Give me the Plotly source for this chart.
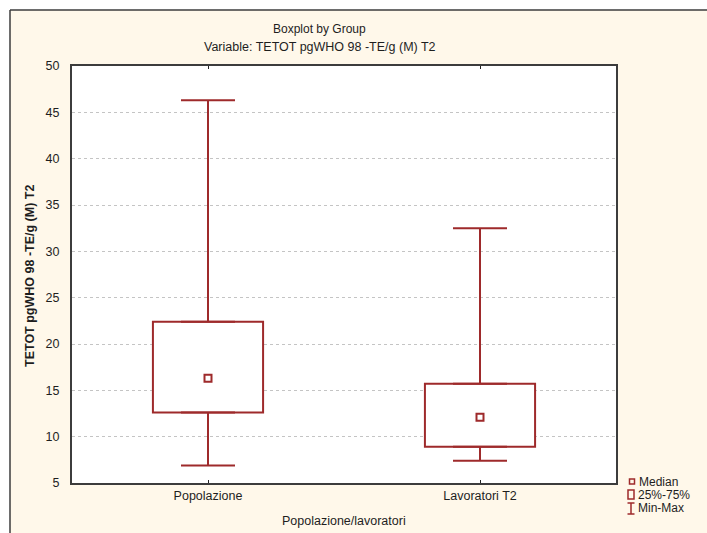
import plotly.graph_objects as go

categories = ["Popolazione", "Lavoratori T2"]
mins = [6.9, 7.4]
q1s = [12.6, 8.9]
medians = [16.3, 12.1]
q3s = [22.4, 15.7]
maxs = [46.3, 32.5]
y_ticks = [5, 10, 15, 20, 25, 30, 35, 40, 45, 50]

RED = "#9e2a2b"
CREAM = "#fff8ea"
W, H = 707, 533
L, R, T, B = 72, 616, 66, 483
FONT = "Liberation Sans, Arial, sans-serif"
TXT = "#1e1e1e"


def px(x):
    return (x - L) / (R - L)


def py(y):
    return (B - y) / (B - T)


fig = go.Figure()

# upper whiskers (from q3 to max)
fig.add_trace(go.Scatter(
    x=categories, y=q3s, mode="markers",
    marker=dict(size=0.1, color="rgba(0,0,0,0)"),
    error_y=dict(type="data", symmetric=False,
                 array=[mx - q for mx, q in zip(maxs, q3s)],
                 arrayminus=[0, 0], color=RED, thickness=2, width=27),
    showlegend=False, hoverinfo="skip"))
# lower whiskers (from q1 to min)
fig.add_trace(go.Scatter(
    x=categories, y=q1s, mode="markers",
    marker=dict(size=0.1, color="rgba(0,0,0,0)"),
    error_y=dict(type="data", symmetric=False,
                 array=[0, 0],
                 arrayminus=[q - mn for q, mn in zip(q1s, mins)],
                 color=RED, thickness=2, width=27),
    showlegend=False, hoverinfo="skip"))
# boxes
fig.add_trace(go.Bar(
    x=categories, base=q1s, y=[q3 - q1 for q3, q1 in zip(q3s, q1s)],
    width=0.405, marker=dict(color="white", line=dict(color=RED, width=2)),
    showlegend=False, hoverinfo="skip"))
# medians
fig.add_trace(go.Scatter(
    x=categories, y=medians, mode="markers",
    marker=dict(symbol="square-open", size=7, color=RED, line=dict(width=2, color=RED)),
    showlegend=False, hoverinfo="skip"))

shapes = [
    # white strips outside the cream frame
    dict(type="rect", xref="paper", yref="paper", layer="below",
         x0=px(-5), x1=px(10), y0=py(H + 20), y1=py(-5),
         fillcolor="white", line=dict(width=0)),
    dict(type="rect", xref="paper", yref="paper", layer="below",
         x0=px(-5), x1=px(W + 20), y0=py(10), y1=py(-5),
         fillcolor="white", line=dict(width=0)),
    # frame lines
    dict(type="line", xref="paper", yref="paper",
         x0=px(10), x1=px(W + 20), y0=py(10), y1=py(10),
         line=dict(color="#3c3c3c", width=1.5)),
    dict(type="line", xref="paper", yref="paper",
         x0=px(10), x1=px(10), y0=py(10), y1=py(H + 20),
         line=dict(color="#3c3c3c", width=1.5)),
    # legend symbols
    dict(type="rect", xref="paper", yref="paper",
         x0=px(629.5), x1=px(634.5), y0=py(484), y1=py(479),
         line=dict(color=RED, width=1.5), fillcolor="rgba(0,0,0,0)"),
    dict(type="rect", xref="paper", yref="paper",
         x0=px(628), x1=px(634), y0=py(499), y1=py(490),
         line=dict(color=RED, width=1.5), fillcolor="rgba(0,0,0,0)"),
    dict(type="line", xref="paper", yref="paper",
         x0=px(631), x1=px(631), y0=py(514), y1=py(503),
         line=dict(color=RED, width=1.5)),
    dict(type="line", xref="paper", yref="paper",
         x0=px(627.5), x1=px(634.5), y0=py(503), y1=py(503),
         line=dict(color=RED, width=1.5)),
    dict(type="line", xref="paper", yref="paper",
         x0=px(627.5), x1=px(634.5), y0=py(514), y1=py(514),
         line=dict(color=RED, width=1.5)),
]

annotations = [
    dict(text="Boxplot by Group", x=px(319), y=py(29), xref="paper", yref="paper",
         showarrow=False, font=dict(family=FONT, size=12, color=TXT), xanchor="center", yanchor="middle"),
    dict(text="Variable: TETOT pgWHO 98 -TE/g (M) T2", x=px(320), y=py(47), xref="paper", yref="paper",
         showarrow=False, font=dict(family=FONT, size=12.5, color=TXT), xanchor="center", yanchor="middle"),
    dict(text="<b>TETOT pgWHO 98 -TE/g (M) T2</b>", x=px(30), y=py(276), xref="paper", yref="paper",
         showarrow=False, textangle=-90, font=dict(family=FONT, size=12.5, color=TXT),
         xanchor="center", yanchor="middle"),
    dict(text="Popolazione/lavoratori", x=px(344), y=py(521), xref="paper", yref="paper",
         showarrow=False, font=dict(family=FONT, size=12.5, color=TXT), xanchor="center", yanchor="middle"),
    dict(text="Median", x=px(637), y=py(482), xref="paper", yref="paper",
         showarrow=False, font=dict(family=FONT, size=12, color=TXT), xanchor="left", yanchor="middle"),
    dict(text="25%-75%", x=px(636), y=py(495), xref="paper", yref="paper",
         showarrow=False, font=dict(family=FONT, size=12, color=TXT), xanchor="left", yanchor="middle"),
    dict(text="Min-Max", x=px(636), y=py(508), xref="paper", yref="paper",
         showarrow=False, font=dict(family=FONT, size=12, color=TXT), xanchor="left", yanchor="middle"),
]

fig.update_layout(
    width=W, height=H,
    margin=dict(l=L, r=W - R, t=T, b=H - B, pad=0),
    paper_bgcolor=CREAM, plot_bgcolor="white",
    font=dict(family=FONT, size=12, color=TXT),
    showlegend=False, barmode="overlay",
    shapes=shapes, annotations=annotations,
    xaxis=dict(type="category", range=[-0.5, 1.5], showgrid=False, zeroline=False,
               showline=True, linecolor="#3c3c3c", linewidth=2, mirror="ticks",
               ticks="inside", ticklen=3, tickcolor="#222", tickwidth=1,
               tickfont=dict(family=FONT, size=12.5, color=TXT), fixedrange=True),
    yaxis=dict(range=[5, 50], tickvals=y_ticks, ticktext=[str(v) for v in y_ticks],
               showgrid=True, gridcolor="#c4c4c4", griddash="dot", gridwidth=1,
               zeroline=False, showline=True, linecolor="#3c3c3c", linewidth=2, mirror=True,
               ticks="", tickfont=dict(family=FONT, size=12.5, color=TXT), ticklabelstandoff=8,
               fixedrange=True),
)

fig.write_html("out.html", config={"displayModeBar": False},
               post_script="document.body.style.margin='0';document.body.style.padding='0';")
